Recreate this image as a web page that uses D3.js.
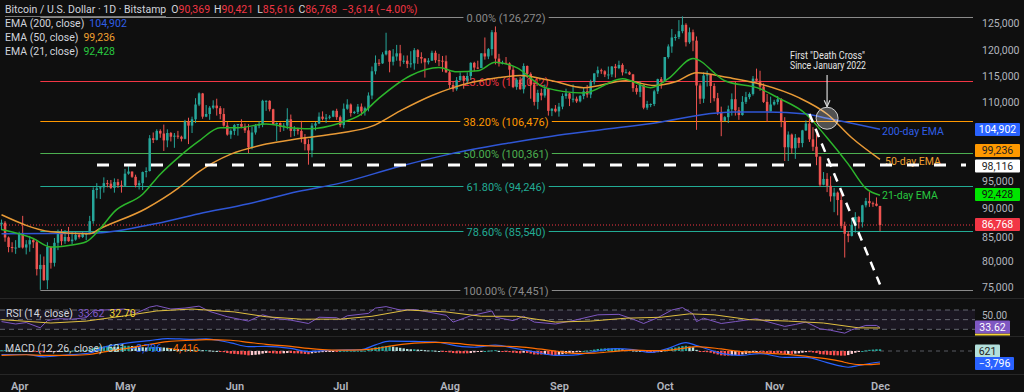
<!DOCTYPE html>
<html><head><meta charset="utf-8">
<script src="https://cdn.jsdelivr.net/npm/d3@7"></script>
<style>
html,body{margin:0;padding:0;background:#0f0f0f;}
svg{display:block;font-family:Roboto,"Noto Sans",sans-serif;}
</style></head><body>
<svg id="c" width="1024" height="392"></svg>
<script>
// ---------------- DATA (prices in thousands USD, daily from startDate) ----------------
const startDate = "2025-03-27";
const opens = [
86.9,87.2,84.4,82.6,82.4,
82.5,85.2,82.5,83.1,83.9,83.5,78.4,79.2,76.3,82.6,79.6,83.4,85.3,83.7,84.5,83.7,84.0,84.9,84.5,85.1,85.1,87.5,93.4,93.7,93.9,94.7,94.6,93.8,94.9,94.3,
94.2,96.5,96.9,95.9,94.3,94.7,96.8,97.0,103.2,102.9,104.6,104.1,102.8,104.2,103.5,103.7,103.5,103.1,106.4,105.6,106.8,109.6,111.7,107.3,107.8,109.0,109.4,108.9,107.8,105.6,103.9,
104.6,105.7,105.9,105.4,104.7,101.5,104.3,105.6,105.8,110.3,110.3,108.7,105.9,106.1,105.4,105.6,106.8,104.6,104.9,104.6,103.3,102.1,100.9,105.6,106.0,107.3,106.9,107.1,107.3,108.4,
107.2,105.7,108.8,109.6,108.0,108.2,109.2,108.3,108.9,111.3,115.9,117.5,117.4,119.1,119.8,117.7,118.7,119.3,117.9,117.9,117.3,117.4,119.9,118.6,118.3,117.6,117.9,119.4,118.0,117.9,117.8,
115.7,113.3,112.5,114.2,115.0,114.1,115.0,117.5,116.6,116.5,119.3,118.7,120.1,123.3,118.3,117.4,117.5,117.4,116.2,112.9,114.3,112.5,116.9,115.4,113.4,110.1,111.8,111.3,112.6,108.4,108.8,
108.3,109.2,111.2,111.7,110.7,110.7,110.2,111.2,112.1,111.5,113.9,115.5,116.1,115.9,115.3,115.3,116.8,116.5,117.1,115.7,115.7,115.3,112.7,112.0,113.3,109.0,109.7,109.7,112.1,114.4,
114.0,118.6,120.6,122.3,122.4,123.5,124.7,121.4,123.3,121.7,113.2,110.7,115.1,115.3,113.1,110.8,108.2,106.5,107.2,108.7,110.6,108.5,107.6,110.1,111.0,111.6,114.5,114.1,113.0,110.1,108.3,
109.6,110.1,110.6,106.5,101.5,103.9,101.3,103.3,102.3,104.7,106.0,103.0,101.6,99.7,94.4,95.5,94.2,92.2,92.9,91.5,86.6,85.1,84.7,86.8,88.3,87.3,90.5,91.3,90.9,90.8,
90.369];
const highs = [
87.8,87.5,84.6,83.5,83.9,
85.5,88.5,83.9,84.7,84.2,83.8,81.2,80.8,83.5,82.7,84.3,85.9,86.0,85.8,86.4,85.5,85.5,85.1,85.6,85.3,88.5,93.9,94.7,94.0,95.8,95.3,95.3,95.6,95.5,95.2,
97.4,97.9,96.9,96.3,95.2,96.9,97.7,103.8,104.3,104.9,104.9,105.8,104.9,104.4,104.2,104.6,103.7,106.7,107.1,107.3,110.8,111.9,111.8,109.5,109.3,110.4,110.7,109.3,108.9,106.3,104.9,
105.9,105.9,106.8,106.0,105.9,105.4,105.9,106.4,110.5,110.4,110.4,108.8,106.2,106.2,106.1,108.9,107.7,105.5,105.2,106.5,104.0,103.0,106.1,106.3,108.1,108.3,107.8,107.6,108.5,108.8,
107.5,109.8,110.6,109.8,108.4,109.7,109.8,109.2,111.9,116.8,118.9,118.2,119.5,123.2,119.9,120.1,120.9,120.9,118.9,118.9,119.7,120.3,120.1,119.5,118.4,118.4,119.8,119.8,119.2,118.8,118.9,
116.1,114.0,114.8,115.7,115.1,115.7,117.6,117.7,117.9,119.3,122.3,120.3,123.7,124.4,119.2,117.9,118.6,117.6,116.8,114.6,114.8,117.4,117.0,115.7,113.7,112.4,112.6,113.4,112.7,108.9,109.5,
109.9,111.7,112.6,111.8,113.4,111.1,111.4,112.9,113.3,114.3,115.5,116.8,116.4,116.1,116.8,116.9,117.3,117.9,117.4,116.3,115.9,115.4,113.3,114.0,113.4,110.3,109.8,112.4,114.5,114.8,
118.6,121.0,123.9,122.9,125.6,126.3,125.0,124.2,123.8,122.5,113.6,115.7,116.0,115.4,113.6,111.8,109.2,107.4,109.4,111.7,114.0,109.1,111.2,112.0,111.9,115.0,116.4,116.0,113.6,111.6,111.1,
110.5,111.2,110.8,107.2,104.5,104.1,104.0,103.4,104.8,106.6,107.5,105.3,104.0,99.8,96.8,96.6,96.0,93.8,93.1,93.1,87.4,85.6,88.0,89.2,88.5,90.6,91.9,93.0,91.2,92.0,
90.421];
const lows = [
85.8,83.6,81.6,81.6,81.3,
82.4,82.3,81.2,81.7,82.4,77.2,74.5,76.2,74.6,78.5,78.9,82.0,82.9,83.2,83.6,83.1,83.8,84.2,84.3,83.9,85.1,87.0,91.8,91.7,92.9,93.9,93.6,92.9,93.8,92.9,
94.1,96.3,95.7,93.9,93.5,93.4,95.8,96.9,102.3,102.8,103.3,100.8,101.5,102.6,101.4,103.1,102.6,103.0,102.1,104.2,106.1,109.3,106.9,107.2,106.7,108.7,107.5,106.8,105.4,103.7,103.1,
103.8,103.7,105.1,104.2,100.4,101.1,103.9,105.1,105.3,108.4,108.3,105.7,102.7,104.4,104.6,104.9,103.4,103.6,103.9,102.4,100.9,98.2,99.6,104.7,105.9,106.6,106.1,106.8,107.2,106.7,
105.3,105.1,108.6,107.3,107.8,107.8,107.5,107.5,108.3,110.6,115.3,116.9,117.3,118.9,115.7,117.0,117.9,116.8,117.3,116.5,116.6,116.2,117.3,117.4,114.7,117.2,117.9,117.5,116.9,115.8,115.6,
112.7,112.0,112.2,114.1,112.6,113.4,114.3,115.9,116.3,116.5,118.1,118.2,118.9,117.2,116.8,117.2,117.3,114.7,112.7,112.4,112.4,111.7,114.6,110.7,109.4,108.7,110.4,110.9,107.5,107.4,108.1,
107.3,108.7,110.7,109.3,110.0,109.9,110.0,110.6,110.9,110.8,113.4,114.8,115.4,114.8,114.4,114.8,114.7,116.3,115.1,115.6,115.2,112.0,111.5,111.0,108.7,108.6,109.1,109.3,111.6,112.6,
113.9,118.3,119.4,121.7,122.0,123.1,120.6,121.1,119.7,104.8,109.7,109.9,113.0,109.9,110.2,107.6,103.6,106.4,106.1,107.5,107.5,106.7,107.5,109.7,110.6,111.3,113.8,112.2,109.9,106.3,108.3,
109.4,109.6,105.3,98.9,98.9,100.3,99.3,101.4,101.5,104.6,102.5,100.8,98.1,94.0,94.3,93.0,91.2,89.2,88.6,86.1,80.6,83.5,84.6,85.3,86.1,86.3,90.1,90.2,90.2,90.3,
85.616];
const closes = [
87.2,84.4,82.6,82.4,82.5,
85.2,82.5,83.1,83.9,83.5,78.4,79.2,76.3,82.6,79.6,83.4,85.3,83.7,84.5,83.7,84.0,84.9,84.5,85.1,85.1,87.5,93.4,93.7,93.9,94.7,94.6,93.8,94.9,94.3,94.2,
96.5,96.9,95.9,94.3,94.7,96.8,97.0,103.2,102.9,104.6,104.1,102.8,104.2,103.5,103.7,103.5,103.1,106.4,105.6,106.8,109.6,111.7,107.3,107.8,109.0,109.4,108.9,107.8,105.6,103.9,104.6,
105.7,105.9,105.4,104.7,101.5,104.3,105.6,105.8,110.3,110.3,108.7,105.9,106.1,105.4,105.6,106.8,104.6,104.9,104.6,103.3,102.1,100.9,105.6,106.0,107.3,106.9,107.1,107.3,108.4,107.2,
105.7,108.8,109.6,108.0,108.2,109.2,108.3,108.9,111.3,115.9,117.5,117.4,119.1,119.8,117.7,118.7,119.3,117.9,117.9,117.3,117.4,119.9,118.6,118.3,117.6,117.9,119.4,118.0,117.9,117.8,115.7,
113.3,112.5,114.2,115.0,114.1,115.0,117.5,116.6,116.5,119.3,118.7,120.1,123.3,118.3,117.4,117.5,117.4,116.2,112.9,114.3,112.5,116.9,115.4,113.4,110.1,111.8,111.3,112.6,108.4,108.8,108.3,
109.2,111.2,111.7,110.7,110.7,110.2,111.2,112.1,111.5,113.9,115.5,116.1,115.9,115.3,115.3,116.8,116.5,117.1,115.7,115.7,115.3,112.7,112.0,113.3,109.0,109.7,109.7,112.1,114.4,114.0,
118.6,120.6,122.3,122.4,123.5,124.7,121.4,123.3,121.7,113.2,110.7,115.1,115.3,113.1,110.8,108.2,106.5,107.2,108.7,110.6,108.5,107.6,110.1,111.0,111.6,114.5,114.1,113.0,110.1,108.3,109.6,
110.1,110.6,106.5,101.5,103.9,101.3,103.3,102.3,104.7,106.0,103.0,101.6,99.7,94.4,95.5,94.2,92.2,92.9,91.5,86.6,85.1,84.7,86.8,88.3,87.3,90.5,91.3,90.9,90.8,90.4,
86.768];

// EMA readings (thousands)
const ema200Dates = ["2025-03-27","2025-04-22","2025-05-08","2025-05-22","2025-06-05","2025-06-19","2025-07-01","2025-07-18","2025-08-01","2025-08-16","2025-08-30","2025-09-13","2025-09-30","2025-10-13","2025-10-20","2025-10-30","2025-11-10","2025-11-16","2025-11-24","2025-12-01"];
const ema200 = [85.1,85.2,86.8,88.9,90.8,93.1,94.7,97.9,100.2,102.1,103.6,104.8,106.3,107.8,108.2,108.2,107.8,107.0,105.9,104.9];
const ema50Dates = ["2025-03-27","2025-04-10","2025-04-21","2025-04-24","2025-05-07","2025-05-16","2025-05-22","2025-05-31","2025-06-10","2025-06-19","2025-07-01","2025-07-10","2025-07-18","2025-07-27","2025-08-02","2025-08-15","2025-08-21","2025-08-30","2025-09-08","2025-09-20","2025-09-28","2025-10-04","2025-10-10","2025-10-19","2025-10-28","2025-11-08","2025-11-16","2025-11-23","2025-12-01"];
const ema50 = [88.7,85.5,85.1,86.1,89.9,93.7,96.9,100.2,102.1,103.1,104.2,105.5,108.4,111.3,112.8,114.7,115.1,114.1,112.8,114.1,113.2,113.9,115.6,114.7,113.5,110.9,107.8,103.3,99.2];
const ema21Dates = ["2025-03-27","2025-04-05","2025-04-10","2025-04-15","2025-04-20","2025-04-24","2025-04-28","2025-05-06","2025-05-11","2025-05-16","2025-05-22","2025-05-28","2025-06-02","2025-06-10","2025-06-17","2025-06-22","2025-07-01","2025-07-07","2025-07-12","2025-07-21","2025-07-29","2025-08-03","2025-08-09","2025-08-14","2025-08-20","2025-08-28","2025-09-08","2025-09-19","2025-09-27","2025-10-02","2025-10-09","2025-10-18","2025-10-28","2025-11-02","2025-11-10","2025-11-16","2025-11-22","2025-11-27","2025-12-01"];
const ema21 = [85.9,84.2,82.6,82.9,83.6,86.1,89.3,92.6,96.4,99.5,102.7,105.2,105.2,105.9,105.2,105.0,106.1,107.8,110.8,115.1,116.6,115.8,116.0,117.6,116.6,112.8,111.8,114.5,112.8,114.5,118.3,114.1,112.6,110.9,107.8,103.3,98.3,93.7,92.4];

// Fibonacci retracement
const fibPct = [0, 23.6, 38.2, 50, 61.8, 78.6, 100];
const fibVal = [126272, 114042, 106476, 100361, 94246, 85540, 74451];
const fibStart = "2025-04-07";
const resistance = 98116;

// RSI readings
const rsiDates = ["2025-03-27","2025-03-31","2025-04-03","2025-04-07","2025-04-09","2025-04-12","2025-04-16","2025-04-20","2025-04-22","2025-04-25","2025-05-01","2025-05-04","2025-05-08","2025-05-10","2025-05-14","2025-05-18","2025-05-22","2025-05-25","2025-05-30","2025-06-05","2025-06-09","2025-06-13","2025-06-17","2025-06-22","2025-06-25","2025-06-30","2025-07-01","2025-07-03","2025-07-09","2025-07-11","2025-07-14","2025-07-18","2025-07-22","2025-07-25","2025-07-31","2025-08-02","2025-08-07","2025-08-13","2025-08-14","2025-08-19","2025-08-22","2025-08-25","2025-08-31","2025-09-05","2025-09-12","2025-09-18","2025-09-22","2025-09-25","2025-09-29","2025-10-03","2025-10-06","2025-10-09","2025-10-10","2025-10-12","2025-10-17","2025-10-21","2025-10-27","2025-10-30","2025-11-04","2025-11-07","2025-11-10","2025-11-14","2025-11-17","2025-11-21","2025-11-23","2025-11-27","2025-11-30","2025-12-01"];
const rsiValues = [46,41,44,33,48,52,51,54,68,70,72,63,76,79,72,74,78,67,56,47,60,52,49,42,55,54,50,58,63,74,77,70,71,67,59,45,58,68,55,48,57,45,41,48,60,61,51,42,54,70,75,62,46,53,42,46,52,46,36,40,45,31,28,22,29,38,38,33.62];
const rsiMaDates = ["2025-03-27","2025-04-10","2025-04-20","2025-05-01","2025-05-10","2025-05-20","2025-06-01","2025-06-10","2025-06-20","2025-07-01","2025-07-10","2025-07-20","2025-07-31","2025-08-10","2025-08-20","2025-08-31","2025-09-10","2025-09-20","2025-09-30","2025-10-08","2025-10-15","2025-10-25","2025-11-05","2025-11-15","2025-11-25","2025-12-01"];
const rsiMaValues = [50,43,47,58,68,72,66,56,51,51,57,70,66,57,57,45,47,53,55,62,60,50,47,43,33,32.7];

// MACD readings
const macdDates = ["2025-03-27","2025-04-03","2025-04-08","2025-04-14","2025-04-21","2025-04-25","2025-05-01","2025-05-08","2025-05-13","2025-05-20","2025-05-24","2025-05-31","2025-06-05","2025-06-10","2025-06-17","2025-06-22","2025-06-26","2025-07-01","2025-07-07","2025-07-11","2025-07-15","2025-07-22","2025-07-28","2025-08-03","2025-08-08","2025-08-14","2025-08-20","2025-08-25","2025-08-31","2025-09-05","2025-09-11","2025-09-17","2025-09-22","2025-09-27","2025-10-02","2025-10-07","2025-10-10","2025-10-17","2025-10-22","2025-10-28","2025-11-04","2025-11-10","2025-11-16","2025-11-20","2025-11-22","2025-11-25","2025-11-28","2025-12-01"];
const macdValues = [-1200,-1200,-2000,-1400,-700,1300,2600,3600,4300,4000,4200,2800,1500,1600,900,-200,100,300,500,2100,3400,3300,3100,1800,1300,2000,800,-300,-1500,-1400,-200,800,500,-500,900,2900,1900,-800,-1500,-900,-2200,-2200,-4000,-5200,-5600,-5000,-4300,-3796];
const signalValues = [-1500,-1300,-1500,-1500,-1200,-300,800,2300,3200,3700,3900,3700,3000,2300,1600,900,500,300,400,800,1700,2700,3000,2600,2000,1700,1500,900,0,-800,-700,-100,300,100,200,1100,1500,700,-100,-600,-1100,-1800,-2700,-3600,-4200,-4700,-4700,-4416];
// MACD histogram, daily, in hundreds
const histValues = [
3,3,2,1,1,
1,1,0,-1,-2,-3,-4,-5,-3,-3,-2,-1,0,1,1,1,2,2,3,4,6,10,13,15,16,16,16,15,14,14,
18,18,17,15,14,13,12,13,14,14,13,12,11,9,8,7,6,6,5,4,4,5,3,3,2,1,0,-2,-4,-7,-9,
-10,-11,-12,-13,-15,-14,-13,-12,-9,-7,-7,-8,-9,-9,-8,-7,-7,-8,-8,-9,-10,-11,-8,-6,-5,-4,-3,-2,-1,-1,
0,1,1,1,1,1,1,1,4,9,13,14,16,17,17,15,13,11,9,7,6,6,5,4,3,2,2,1,0,-2,-3,
-5,-7,-8,-8,-8,-8,-7,-5,-3,-1,0,1,2,3,0,-2,-3,-4,-6,-7,-8,-6,-7,-9,-12,-12,-12,-11,-13,-14,-15,
-13,-11,-9,-7,-6,-4,-2,0,1,3,5,7,8,9,9,9,9,9,6,4,3,2,1,0,-3,-4,-5,-6,-4,-2,
2,7,10,12,15,17,18,15,13,4,-2,-3,-4,-6,-9,-12,-15,-16,-16,-15,-14,-14,-12,-10,-8,-5,-3,-3,-5,-7,-7,
-7,-7,-8,-11,-10,-10,-9,-8,-6,-4,-4,-5,-7,-11,-12,-13,-14,-15,-15,-16,-16,-14,-10,-6,-3,0,2,4,5,6,
6];

const priceTicks = [125,120,115,110,95,90,85,80,75];
const monthTicks = ["2025-04-01","2025-05-01","2025-06-01","2025-07-01","2025-08-01","2025-09-01","2025-10-01","2025-11-01","2025-12-01"];
const trendFrom = ["2025-11-11", 107.8];
const trendTo = ["2025-12-01", 75.5];
const crossDate = "2025-11-16";
const crossVal = 107.0;

// ---------------- DRAW ----------------
const W=1024, H=392, PR=975;
const BG="#0f0f0f";
const svg=d3.select("#c");
svg.append("rect").attr("width",W).attr("height",H).attr("fill",BG);
const parse=d3.timeParse("%Y-%m-%d");
const start=parse(startDate);
const n=Math.min(opens.length,highs.length,lows.length,closes.length);
const dates=d3.range(n).map(i=>d3.timeDay.offset(start,i));
const x=d3.scaleTime().domain([parse("2025-05-01"),parse("2025-12-01")]).range([125,880]);
const y=d3.scaleLinear().domain([75,125]).range([287.1,23.25]);
const yR=d3.scaleLinear().domain([30,70]).range([329.3,310]);
const yM=d3.scaleLinear().domain([-4000,4000]).range([362.6,339.4]);
const fmt=d3.format(",");

svg.append("defs").html(`
 <clipPath id="cp"><rect x="0" y="0" width="${PR}" height="297"/></clipPath>
 <clipPath id="cr"><rect x="0" y="300" width="${PR}" height="35"/></clipPath>
 <clipPath id="cm"><rect x="0" y="337" width="${PR}" height="36"/></clipPath>
 <marker id="arr" viewBox="0 0 10 10" refX="9" refY="5" markerWidth="6" markerHeight="6" orient="auto"><path d="M0,1 L9,5 L0,9" fill="none" stroke="#d8d8d8" stroke-width="1.6"/></marker>`);

// pane separators
[298,336,374].forEach(v=>svg.append("line").attr("x1",0).attr("x2",W).attr("y1",v+0.5).attr("y2",v+0.5).attr("stroke","#262626"));

const price=svg.append("g").attr("clip-path","url(#cp)");

// fib lines & labels
const fibCol=["#8a8a8a","#f23645","#ff9800","#4caf50","#22ab94","#22ab94","#8a8a8a"];
const fx0=x(parse(fibStart));
fibVal.forEach((v,i)=>{
  const yy=Math.round(y(v/1000))+0.5;
  price.append("line").attr("x1",fx0).attr("x2",PR-2).attr("y1",yy).attr("y2",yy).attr("stroke",fibCol[i]).attr("stroke-width",1.2);
  const label=`${fibPct[i].toFixed(2)}% (${fmt(v)})`;
  const t=price.append("text").attr("x",506).attr("y",yy+4).attr("text-anchor","middle").attr("font-size",11).attr("fill",fibCol[i]).text(label);
  const bb=t.node().getBBox();
  price.insert("rect","text:last-of-type").attr("x",bb.x-3).attr("y",yy-2).attr("width",bb.width+6).attr("height",4).attr("fill",BG);
});
// current price dotted line
price.append("line").attr("x1",0).attr("x2",PR).attr("y1",y(closes[n-1])).attr("y2",y(closes[n-1]))
  .attr("stroke","#f23645").attr("stroke-width",1).attr("stroke-dasharray","1,2");

// EMA labels
price.append("text").attr("x",882).attr("y",135).attr("font-size",10.5).attr("fill","#2f5fe8").text("200-day EMA");
price.append("text").attr("x",885).attr("y",165).attr("font-size",10.5).attr("fill","#f0a030").text("50-day EMA");
price.append("text").attr("x",882).attr("y",199).attr("font-size",10.5).attr("fill","#28c840").text("21-day EMA");

// candles
const bw=2.5;
const cg=price.append("g");
d3.range(n).forEach(i=>{
  const up=closes[i]>=opens[i];
  const col=up?"#26a69a":"#ef5350";
  const cx=x(dates[i]);
  cg.append("line").attr("x1",cx).attr("x2",cx).attr("y1",y(highs[i])).attr("y2",y(lows[i])).attr("stroke",col).attr("stroke-width",1);
  const y1=y(Math.max(opens[i],closes[i])), y2=y(Math.min(opens[i],closes[i]));
  cg.append("rect").attr("x",cx-bw/2).attr("y",y1).attr("width",bw).attr("height",Math.max(1,y2-y1)).attr("fill",col);
});

// EMA lines
const emaLine=(ds,vs,col)=>{
  const pts=d3.zip(ds,vs).map(([d,v])=>[x(parse(d)),y(v)]);
  price.append("path").attr("d",d3.line().curve(d3.curveMonotoneX)(pts)).attr("fill","none").attr("stroke",col).attr("stroke-width",1.5);
};
emaLine(ema200Dates,ema200,"#2f56d6");
emaLine(ema50Dates,ema50,"#e89a36");
emaLine(ema21Dates,ema21,"#2cb52c");

// resistance dashed line
price.append("line").attr("x1",97).attr("x2",966).attr("y1",y(resistance/1000)).attr("y2",y(resistance/1000))
  .attr("stroke","#ffffff").attr("stroke-width",3).attr("stroke-dasharray","12,15");
// trend dashed line
price.append("line").attr("x1",x(parse(trendFrom[0]))).attr("y1",y(trendFrom[1])).attr("x2",x(parse(trendTo[0]))).attr("y2",y(trendTo[1]))
  .attr("stroke","#ffffff").attr("stroke-width",2.5).attr("stroke-dasharray","9,7");
// death cross
const ccx=x(parse(crossDate)), ccy=y(crossVal);
price.append("circle").attr("cx",ccx).attr("cy",ccy).attr("r",11).attr("fill","rgba(255,255,255,0.28)").attr("stroke","#cfcfcf").attr("stroke-width",1);
price.append("line").attr("x1",ccx).attr("x2",ccx).attr("y1",75).attr("y2",ccy-11.5).attr("stroke","#d8d8d8").attr("stroke-width",1.2).attr("marker-end","url(#arr)");
const an=price.append("text").attr("font-size",10).attr("fill","#e6e6e6");
an.append("tspan").attr("x",790).attr("y",59).attr("textLength",75).attr("lengthAdjust","spacingAndGlyphs").text("First \"Death Cross\"");
an.append("tspan").attr("x",790).attr("y",69).attr("textLength",76).attr("lengthAdjust","spacingAndGlyphs").text("Since January 2022");

// header
const hd=svg.append("text").attr("x",5).attr("y",13).attr("font-size",10.5).attr("fill","#d1d4dc");
hd.append("tspan").text("Bitcoin / U.S. Dollar · 1D · Bitstamp");
const red="#f23645";
[["O","90,369"],["H","90,421"],["L","85,616"],["C","86,768"]].forEach(([k,v],i)=>{
  hd.append("tspan").attr("dx",i?4:5).text(k);
  hd.append("tspan").attr("fill",red).text(v);
});
hd.append("tspan").attr("dx",5).attr("fill",red).text("−3,614 (−4.00%)");
svg.append("line").attr("x1",5).attr("x2",166).attr("y1",16.5).attr("y2",16.5).attr("stroke","#777");
const leg=[["EMA (200, close)","104,902","#2f5fe8",27],["EMA (50, close)","99,236","#f0a030",41],["EMA (21, close)","92,428","#28c840",55]];
leg.forEach(([a,b,c,yy])=>{
  const t=svg.append("text").attr("x",5).attr("y",yy).attr("font-size",10.5).attr("fill","#d1d4dc");
  t.append("tspan").text(a); t.append("tspan").attr("dx",5).attr("fill",c).text(b);
});

// price axis
const ax=svg.append("g").attr("transform",`translate(${PR},0)`)
  .call(d3.axisRight(y).tickValues(priceTicks).tickSize(0).tickPadding(7).tickFormat(d=>fmt(d*1000)));
ax.select(".domain").remove();
ax.selectAll("text").attr("fill","#b2b5be").attr("font-size",10.5).attr("font-family","Roboto,sans-serif");
// 85,000 sits under the current-price box: nudge it just below it
ax.selectAll(".tick").filter(d=>d===85).select("text").attr("dy","0.62em");

// value boxes
const box=(yc,txt,bg,fg,w)=>{
  svg.append("rect").attr("x",975).attr("y",yc-6.5).attr("width",w).attr("height",13).attr("rx",1).attr("fill",bg);
  svg.append("text").attr("x",975+w/2).attr("y",yc+3.8).attr("text-anchor","middle").attr("font-size",10.5).attr("fill",fg).text(txt);
};
box(129.5,"104,902","#2962ff","#fff",45);
box(150.5,"99,236","#ff9800","#222",45);
box(166,"98,116","#ffffff","#222",45);
box(194.5,"92,428","#00e600","#111",45);
box(224.5,"86,768","#f23645","#fff",45);

// RSI pane
const rsi=svg.append("g").attr("clip-path","url(#cr)");
rsi.append("rect").attr("x",0).attr("width",PR).attr("y",yR(70)).attr("height",yR(30)-yR(70)).attr("fill","rgba(126,87,194,0.1)");
[70,50,30].forEach(v=>rsi.append("line").attr("x1",0).attr("x2",PR).attr("y1",yR(v)).attr("y2",yR(v)).attr("stroke","#787b86").attr("stroke-dasharray","5,4").attr("stroke-width",1).attr("opacity",0.8));
const lineR=(ds,vs,col)=>rsi.append("path").attr("d",d3.line().x(d=>x(parse(d[0]))).y(d=>yR(d[1]))(d3.zip(ds,vs))).attr("fill","none").attr("stroke",col).attr("stroke-width",1);
lineR(rsiDates,rsiValues,"#7e57c2");
lineR(rsiMaDates,rsiMaValues,"#e0c040");
const rl=svg.append("text").attr("x",6).attr("y",317).attr("font-size",10.5).attr("fill","#d1d4dc");
rl.append("tspan").text("RSI (14, close)");
rl.append("tspan").attr("dx",5).attr("fill","#7e57c2").text("33.62");
rl.append("tspan").attr("dx",5).attr("fill","#f5d533").text("32.70");
svg.append("text").attr("x",982).attr("y",319).attr("font-size",10).attr("fill","#b2b5be").text("50.00");
svg.append("rect").attr("x",975).attr("y",333.5).attr("width",35).attr("height",2).attr("fill","#f5d533");
box(327,"33.62","#7e57c2","#fff",35);

// MACD pane
const mg=svg.append("g").attr("clip-path","url(#cm)");
mg.append("line").attr("x1",0).attr("x2",PR).attr("y1",yM(0)).attr("y2",yM(0)).attr("stroke","#787b86").attr("stroke-dasharray","4,4").attr("opacity",0.7);
const hn=Math.min(histValues.length,n);
d3.range(hn).forEach(i=>{
  const v=histValues[i]*100, pv=i?histValues[i-1]*100:v;
  const col=v>=0?(v>=pv?"#26a69a":"#b2dfdb"):(v<=pv?"#ff5252":"#ffcdd2");
  const y0=yM(0), y1=yM(v);
  mg.append("rect").attr("x",x(dates[i])-1.2).attr("width",2.4).attr("y",Math.min(y0,y1)).attr("height",Math.max(1,Math.abs(y1-y0))).attr("fill",col);
});
const lineM=(vs,col)=>mg.append("path").attr("d",d3.line().curve(d3.curveMonotoneX).x(d=>x(parse(d[0]))).y(d=>yM(d[1]))(d3.zip(macdDates,vs))).attr("fill","none").attr("stroke",col).attr("stroke-width",1.2);
lineM(macdValues,"#2962ff");
lineM(signalValues,"#ff6d00");
const ml=svg.append("text").attr("x",5).attr("y",352).attr("font-size",10.5).attr("fill","#d1d4dc");
ml.append("tspan").text("MACD (12, 26, close)");
ml.append("tspan").attr("dx",5).attr("fill","#b2dfdb").text("621");
ml.append("tspan").attr("dx",5).attr("fill","#2962ff").text("−3,796");
ml.append("tspan").attr("dx",5).attr("fill","#ff6d00").text("−4,416");
box(351,"621","#b2dfdb","#222",25);
box(363.5,"−3,796","#2962ff","#fff",39);

// time axis
const xa=svg.append("g").attr("transform","translate(0,374)")
  .call(d3.axisBottom(x).tickValues(monthTicks.map(parse)).tickSize(0).tickPadding(8).tickFormat(d3.timeFormat("%b")));
xa.select(".domain").remove();
xa.selectAll("text").attr("fill","#b2b5be").attr("font-size",11).attr("font-weight",600).attr("font-family","Roboto,sans-serif");
</script>
</body></html>
